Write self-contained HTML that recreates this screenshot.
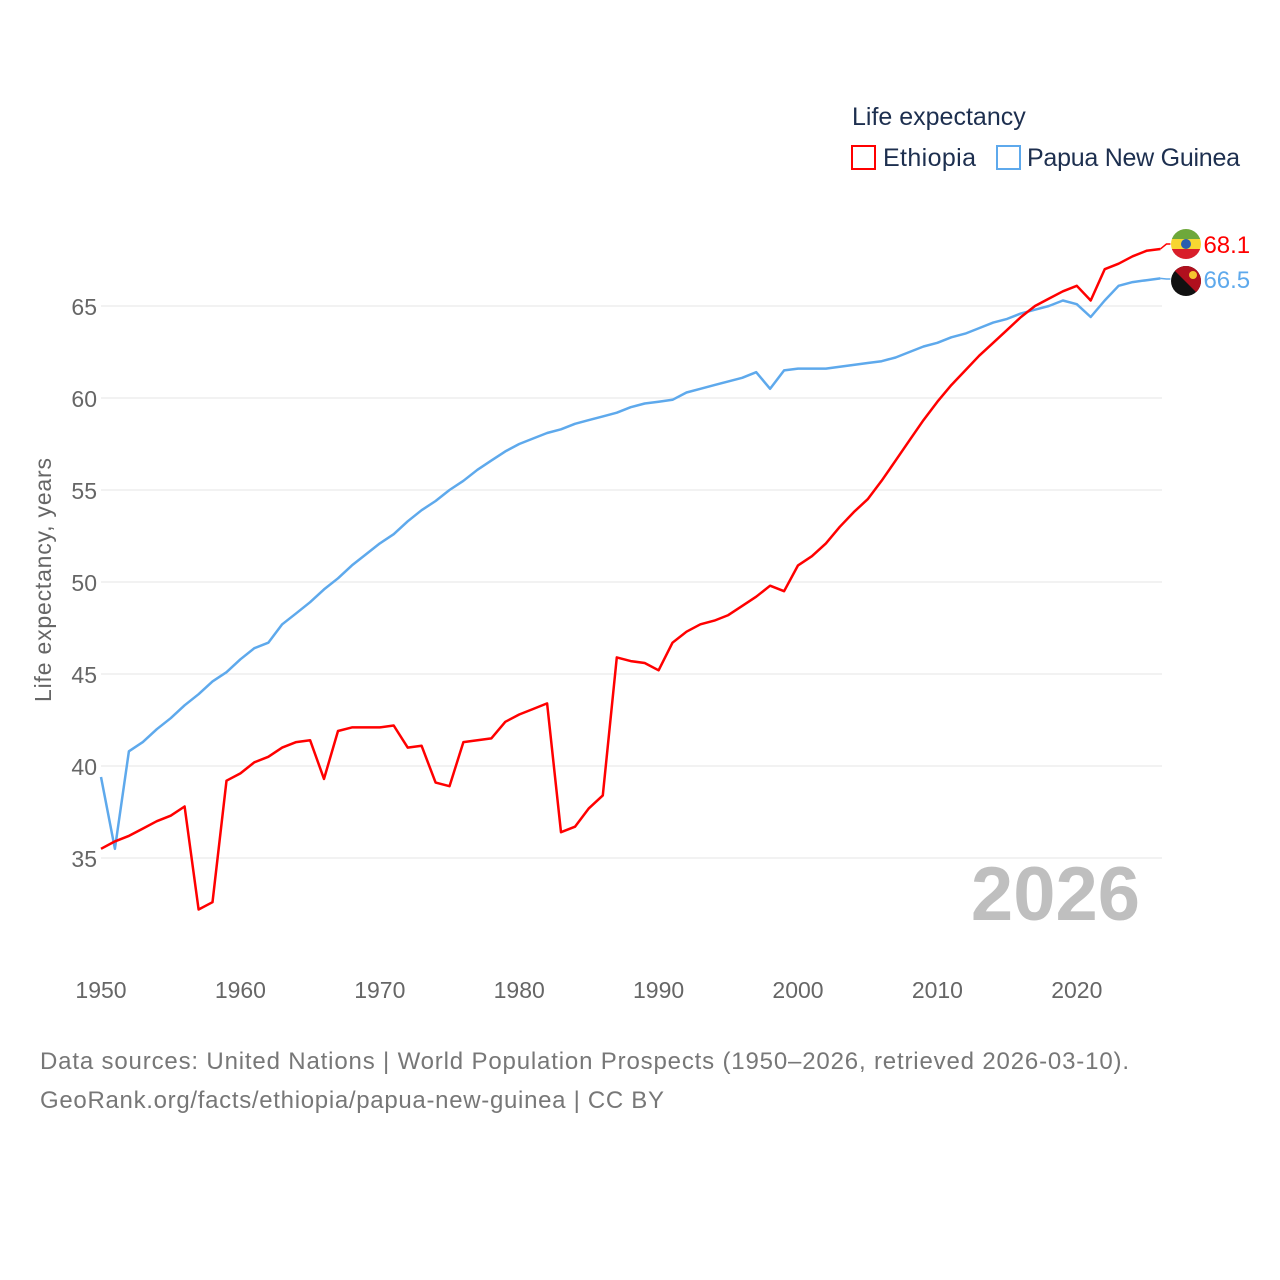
<!DOCTYPE html>
<html><head><meta charset="utf-8"><style>
body{margin:0;background:#fff;}
svg{display:block;font-family:"Liberation Sans",sans-serif;}
</style></head><body>
<svg id="chart" width="1280" height="1280" viewBox="0 0 1280 1280">
<defs>
<clipPath id="flagE"><circle cx="1186" cy="244" r="15"/></clipPath>
<clipPath id="flagP"><circle cx="1186" cy="281" r="15"/></clipPath>
</defs>
<text x="852" y="125" font-size="25" fill="#1d2f4f">Life expectancy</text>
<rect x="852" y="146" width="23" height="23" fill="none" stroke="#f00" stroke-width="2"/>
<text x="883" y="166" font-size="25" fill="#1d2f4f" textLength="93">Ethiopia</text>
<rect x="997" y="146" width="23" height="23" fill="none" stroke="#5ea9ec" stroke-width="2"/>
<text x="1027" y="166" font-size="25" fill="#1d2f4f" textLength="213">Papua New Guinea</text>
<g id="grid"></g>
<g id="lines"></g>
<g clip-path="url(#flagE)">
<rect x="1170" y="229" width="32" height="10" fill="#6ea83b"/>
<rect x="1170" y="239" width="32" height="10" fill="#f7d631"/>
<rect x="1170" y="249" width="32" height="11" fill="#d81e2a"/>
<circle cx="1186" cy="244" r="5" fill="#2a5db0"/>
</g>
<g clip-path="url(#flagP)">
<rect x="1170" y="266" width="32" height="32" fill="#111"/>
<polygon points="1170,266 1202,266 1202,298" fill="#b0101e"/>
<circle cx="1193" cy="275" r="4" fill="#f4c430"/>
</g>
<text x="1140" y="920" font-size="76" font-weight="bold" fill="#bfbfbf" text-anchor="end">2026</text>
<text transform="translate(51,580) rotate(-90)" font-size="23" fill="#666" text-anchor="middle" textLength="244">Life expectancy, years</text>
<text x="40" y="1069" font-size="24" fill="#777" textLength="1089">Data sources: United Nations | World Population Prospects (1950–2026, retrieved 2026-03-10).</text>
<text x="40" y="1108" font-size="24" fill="#777" textLength="624">GeoRank.org/facts/ethiopia/papua-new-guinea | CC BY</text>
</svg>
<script>
const startYear = 1950;
const yTicks = [35, 40, 45, 50, 55, 60, 65];
const xTicks = [1950, 1960, 1970, 1980, 1990, 2000, 2010, 2020];
const ethiopia = [35.5,35.9,36.2,36.6,37.0,37.3,37.8,32.2,32.6,39.2,39.6,40.2,40.5,41.0,41.3,41.4,39.3,41.9,42.1,42.1,42.1,42.2,41.0,41.1,39.1,38.9,41.3,41.4,41.5,42.4,42.8,43.1,43.4,36.4,36.7,37.7,38.4,45.9,45.7,45.6,45.2,46.7,47.3,47.7,47.9,48.2,48.7,49.2,49.8,49.5,50.9,51.4,52.1,53.0,53.8,54.5,55.5,56.6,57.7,58.8,59.8,60.7,61.5,62.3,63.0,63.7,64.4,65.0,65.4,65.8,66.1,65.3,67.0,67.3,67.7,68.0,68.1];
const png = [39.4,35.5,40.8,41.3,42.0,42.6,43.3,43.9,44.6,45.1,45.8,46.4,46.7,47.7,48.3,48.9,49.6,50.2,50.9,51.5,52.1,52.6,53.3,53.9,54.4,55.0,55.5,56.1,56.6,57.1,57.5,57.8,58.1,58.3,58.6,58.8,59.0,59.2,59.5,59.7,59.8,59.9,60.3,60.5,60.7,60.9,61.1,61.4,60.5,61.5,61.6,61.6,61.6,61.7,61.8,61.9,62.0,62.2,62.5,62.8,63.0,63.3,63.5,63.8,64.1,64.3,64.6,64.8,65.0,65.3,65.1,64.4,65.3,66.1,66.3,66.4,66.5];
const NS = "http://www.w3.org/2000/svg";
function xs(year){ return 101 + (year - 1950) * 13.94; }
function ys(v){ return 306 + (65 - v) * 18.4; }
function mk(tag, attrs, parent){ const e = document.createElementNS(NS, tag); for (const k in attrs) e.setAttribute(k, attrs[k]); parent.appendChild(e); return e; }
const grid = document.getElementById('grid');
const lines = document.getElementById('lines');
yTicks.forEach(t => {
  const l = mk('line', {x1: 101, x2: 1162, y1: ys(t), y2: ys(t), stroke: '#e6e6e6', 'stroke-width': 1}, grid);
  
  
  const tx = mk('text', {x: 97, y: ys(t) + 9, 'font-size': 23, fill: '#666', 'text-anchor': 'end'}, grid);
  tx.textContent = t;
  
  
});
xTicks.forEach(t => {
  const tx = mk('text', {x: xs(t), y: 998, 'font-size': 23, fill: '#666', 'text-anchor': 'middle'}, grid);
  tx.textContent = t;
  
  
});
function drawSeries(arr, color, name, labelY){
  const pts = arr.map((v, i) => xs(startYear + i).toFixed(1) + ',' + ys(v).toFixed(1)).join(' ');
  const p = mk('polyline', {points: pts, fill: 'none', stroke: color, 'stroke-width': 2.5, 'stroke-linejoin': 'round'}, lines);
  
  
  const last = arr[arr.length - 1];
  const lx = xs(startYear + arr.length - 1);
  mk('polyline', {points: lx + ',' + ys(last) + ' ' + (lx + 6) + ',' + labelY + ' ' + (lx + 10) + ',' + labelY, fill: 'none', stroke: color, 'stroke-width': 1.5}, lines);
  const t = mk('text', {x: lx + 43, y: labelY + 9, 'font-size': 24, fill: color}, lines);
  t.textContent = last.toFixed(1);
  
  
}
drawSeries(png, '#5ea9ec', 'png', 279);
drawSeries(ethiopia, '#ff0000', 'ethiopia', 244);
</script>
</body></html>
